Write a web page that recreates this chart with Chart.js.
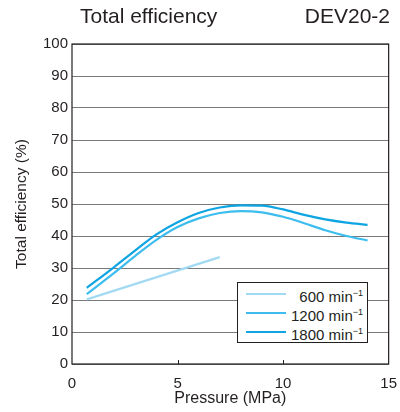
<!DOCTYPE html>
<html>
<head>
<meta charset="utf-8">
<script src="https://cdn.jsdelivr.net/npm/chart.js@4"></script>
<style>
  body { margin: 0; background: #fff; font-family: 'Liberation Sans', Arial, sans-serif; color: #231f20; }
  #wrap { position: relative; width: 400px; height: 412px; }
  .ttl { position: absolute; top: 4px; font-size: 21px; }
  #legend { position: absolute; left: 237px; top: 282px; width: 131px; height: 61px;
            background: #fff; border: 1px solid #231f20; box-sizing: border-box; font-size: 15px; }
  .lg { position: absolute; left: 0; width: 125px; height: 19px; line-height: 19px; text-align: right; }
  .lg i { position: absolute; left: 8px; top: 9px; width: 40px; height: 2px; }
  sup { font-size: 9px; vertical-align: 6px; }
</style>
</head>
<body>
<div id="wrap">
  <canvas id="c" width="400" height="412"></canvas>
  <div class="ttl" style="left:80px">Total efficiency</div>
  <div class="ttl" style="right:10px">DEV20-2</div>
  <div id="legend"></div>
</div>
<script>
// ── Data ─────────────────────────────────────────────────────────────────────
const X_600  = [0.7, 7.0];
const Y_600  = [20.2, 33.4];
const X_1200 = [0.7, 2, 3, 4, 5, 6, 7, 8, 9, 10, 11, 12, 13, 14];
const Y_1200 = [21.8, 28.5, 33.8, 38.8, 42.8, 45.5, 47.2, 47.8, 47.4, 46.0, 44.0, 41.8, 40.0, 38.6];
const X_1800 = [0.7, 2, 3, 4, 5, 6, 7, 8, 9, 10, 11, 12, 13, 14];
const Y_1800 = [23.8, 30.3, 35.5, 40.5, 44.3, 47.2, 48.9, 49.6, 49.5, 48.3, 46.6, 45.2, 44.2, 43.5];
const SPEEDS = ['600', '1200', '1800'];
const COLORS = ['#a3daf3', '#3dbdee', '#0ea5e2'];
const X_TICKS = [0, 5, 10, 15];

const pts = (xs, ys) => xs.map((x, i) => ({ x, y: ys[i] }));
const SERIES = [pts(X_600, Y_600), pts(X_1200, Y_1200), pts(X_1800, Y_1800)];
const FONT = { family: 'Liberation Sans', size: 15 };

// ── Plot frame + inward x ticks ──────────────────────────────────────────────
const framePlugin = {
  id: 'frame',
  afterDraw(chart) {
    const { ctx, chartArea: a, scales } = chart;
    ctx.save();
    ctx.strokeStyle = '#231f20';
    ctx.lineWidth = 1.2;
    ctx.strokeRect(a.left, a.top, a.right - a.left, a.bottom - a.top);
    ctx.lineWidth = 1;
    [5, 10].forEach(v => {
      const px = Math.round(scales.x.getPixelForValue(v)) + 0.5;
      ctx.beginPath(); ctx.moveTo(px, a.bottom); ctx.lineTo(px, a.bottom - 4); ctx.stroke();
    });
    ctx.restore();
  }
};

new Chart(document.getElementById('c'), {
  type: 'line',
  data: {
    datasets: SERIES.map((d, i) => ({
      label: SPEEDS[i] + ' min-1',
      data: d,
      borderColor: COLORS[i],
      borderWidth: 2.2,
      pointRadius: 0,
      tension: 0.4,
      cubicInterpolationMode: 'monotone',
      fill: false,
    })),
  },
  options: {
    responsive: false,
    animation: false,
    layout: { padding: { left: 8, right: 7, top: 44, bottom: 0 } },
    plugins: { legend: { display: false }, tooltip: { enabled: false } },
    scales: {
      x: {
        type: 'linear', min: 0, max: 15,
        afterBuildTicks: s => { s.ticks = X_TICKS.map(v => ({ value: v })); },
        afterFit: s => { s.height = 48; },
        grid: { display: false },
        border: { display: false },
        ticks: { color: '#231f20', font: FONT, padding: 3, maxRotation: 0 },
        title: { display: true, text: 'Pressure (MPa)', color: '#231f20',
                 font: { family: 'Liberation Sans', size: 16 }, padding: { top: 0 } },
      },
      y: {
        min: 0, max: 100,
        afterFit: s => { s.width = 64; },
        grid: { color: '#7a7a7a', lineWidth: 1, drawTicks: false },
        border: { display: false },
        ticks: { stepSize: 10, color: '#231f20', font: FONT, padding: 4 },
        title: { display: true, text: 'Total efficiency (%)', color: '#231f20',
                 font: { family: 'Liberation Sans', size: 15.5 }, padding: { bottom: 2 } },
      },
    },
  },
  plugins: [framePlugin],
});

// ── Legend (HTML) ────────────────────────────────────────────────────────────
document.getElementById('legend').innerHTML = SPEEDS.map((s, i) =>
  `<div class="lg" style="top:${1 + i * 19}px"><i style="background:${COLORS[i]}"></i>${s} min<sup>−1</sup></div>`
).join('');
</script>
</body>
</html>
